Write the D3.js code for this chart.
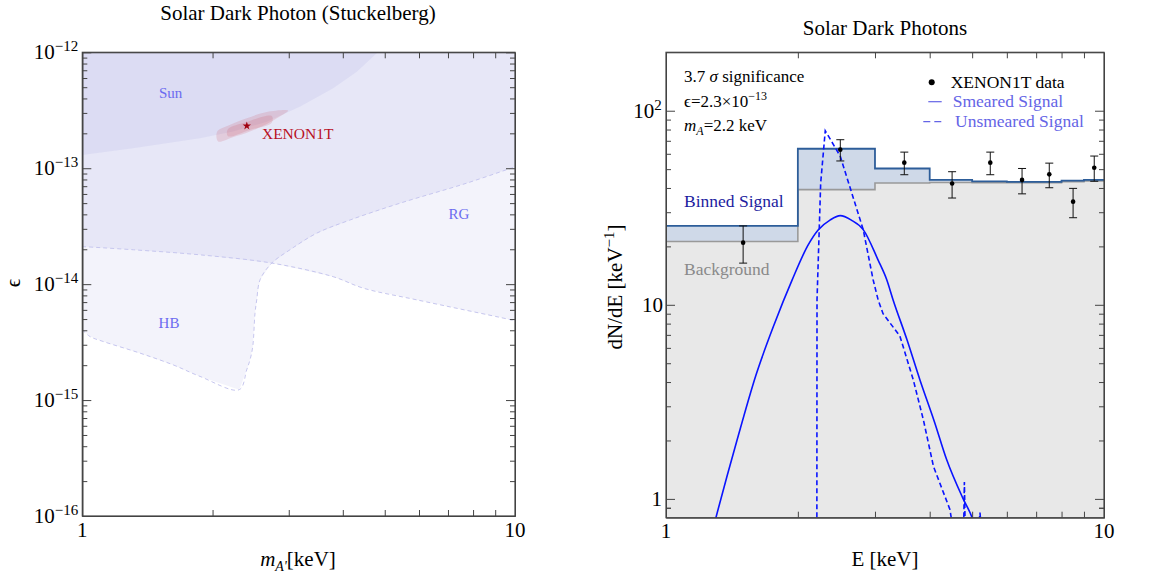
<!DOCTYPE html>
<html>
<head>
<meta charset="utf-8">
<script src="https://cdn.jsdelivr.net/npm/d3@7"></script>
<style>
  body { margin: 0; background: #fff; }
  text { font-family: "Liberation Serif", "Times New Roman", serif; }
</style>
</head>
<body>
<svg id="chart" width="1155" height="574"></svg>
<script>
// ---- left panel: exclusion regions in (m_A' [keV], epsilon) ----
const sunEdge = [[1, 1.30e-13], [1.31, 1.49e-13], [1.87, 1.81e-13], [2.23, 2.07e-13], [2.67, 2.52e-13],
  [3.19, 3.40e-13], [3.80, 4.89e-13], [4.31, 6.81e-13], [4.79, 9.8e-13], [4.86, 1.1e-12]];
const hbEdge = [[1, 4.04e-15], [1.042, 3.53e-15], [1.118, 3.20e-15], [1.36, 2.54e-15], [1.623, 2.01e-15],
  [1.871, 1.60e-15], [2.306, 1.23e-15], [2.398, 1.82e-15], [2.441, 2.22e-15], [2.477, 2.90e-15],
  [2.507, 5.62e-15], [2.53, 7.32e-15], [2.575, 1.09e-14], [2.741, 1.52e-14], [3.02, 1.98e-14],
  [3.48, 2.75e-14], [4.16, 3.58e-14], [5.42, 4.99e-14], [7.73, 7.43e-14], [10, 1.03e-13]];
const rgEdge = [[1, 2.11e-14], [1.312, 1.98e-14], [1.871, 1.79e-14], [2.741, 1.52e-14], [3.80, 1.16e-14],
  [4.46, 9.24e-15], [5.93, 7.32e-15], [9.57, 5.02e-15], [10, 4.83e-15]];
const xenonOuter = [[2.05, 2.07e-13], [2.19, 2.36e-13], [2.40, 2.70e-13], [2.67, 3.06e-13], [2.99, 3.14e-13],
  [2.86, 2.79e-13], [2.67, 2.41e-13], [2.44, 2.07e-13], [2.22, 1.84e-13], [2.06, 1.70e-13]];
const xenonInner = [[2.17, 2.17e-13], [2.40, 2.51e-13], [2.74, 2.82e-13], [2.74, 2.47e-13], [2.44, 2.14e-13],
  [2.17, 1.89e-13]];
const bestFit = [2.40, 2.32e-13];
const epsTicks = [-16, -15, -14, -13, -12];

// ---- right panel: spectrum ----
const binEdges = [1, 2, 3, 4, 5, 6, 7, 8, 9, 10];
const binSignal = [25.5, 63.7, 50.4, 44.0, 43.3, 43.0, 43.0, 43.6, 44.0];
const binBackground = [21.2, 39.2, 42.4, 42.7, 42.6, 42.6, 42.6, 43.1, 43.5];
const dataE = [1.5, 2.5, 3.5, 4.5, 5.5, 6.5, 7.5, 8.5, 9.5];
const dataRate = [20.9, 63.0, 54.0, 42.2, 54.0, 44.0, 47.0, 34.0, 50.8];
const dataLow = [16.4, 55.1, 46.8, 35.5, 46.8, 37.3, 40.1, 28.1, 43.3];
const dataHigh = [25.5, 70.9, 61.2, 48.5, 61.2, 50.4, 53.7, 39.8, 58.4];
const smearE = [1.26, 1.30, 1.453, 1.605, 1.764, 1.94, 2.11, 2.225, 2.368, 2.5, 2.65, 2.82, 3.05, 3.19, 3.30,
  3.55, 3.80, 4.10, 4.37, 4.77, 5.0, 5.1];
const smearRate = [0.61, 0.80, 2.01, 4.35, 7.87, 13.4, 20.3, 24.3, 27.3, 28.8, 27.3, 24.4, 17.0, 13.5, 10.6,
  6.6, 4.1, 2.5, 1.6, 1.0, 0.8, 0.7];
const unsmearE = [2.21, 2.212, 2.255, 2.31, 2.5, 2.82, 2.97, 3.05, 3.13, 3.42, 3.67, 3.87, 4.08, 4.45, 4.52,
  null, 4.77, 4.80, 4.83, null, 5.17, 5.21, 5.25];
const unsmearRate = [0.5, 10.6, 42.4, 78.9, 58.2, 24.4, 13.5, 10.6, 9.0, 6.9, 4.1, 2.55, 1.47, 0.88, 0.7,
  null, 0.5, 1.22, 0.55, null, 0.7, 0.85, 0.7];
const rateTicks = [1, 10, 100];

const svg = d3.select("#chart");
const defs = svg.append("defs");
const frameColor = "#444";

function clip(id, x0, x1, y0, y1) {
  defs.append("clipPath").attr("id", id).append("rect")
    .attr("x", x0).attr("y", y0).attr("width", x1 - x0).attr("height", y1 - y0);
}

function minors(lo, hi) {
  let out = [];
  for (let p = Math.floor(Math.log10(lo)); p <= Math.ceil(Math.log10(hi)); p++) {
    for (let k = 2; k <= 9; k++) {
      let v = k * Math.pow(10, p);
      if (v > lo && v < hi) out.push(v);
    }
  }
  return out;
}

function frame(g, x, y, yMajor) {
  let [x0, x1] = x.range(), [y1, y0] = y.range();
  let xm = minors(1, 10);
  let ym = minors(y.domain()[0], y.domain()[1]).concat(y.domain()[0] < 0.9 ? [0.9] : []);
  let put = (axis, tx, ty) => {
    let a = g.append("g").attr("transform", "translate(" + tx + "," + ty + ")").call(axis);
    a.selectAll("path, line").attr("stroke", frameColor);
    a.selectAll("text").remove();
  };
  put(d3.axisBottom(x).tickValues(xm).tickSize(-6).tickSizeOuter(0), 0, y1);
  put(d3.axisTop(x).tickValues(xm).tickSize(-6).tickSizeOuter(0), 0, y0);
  put(d3.axisLeft(y).tickValues(yMajor).tickSize(-9).tickSizeOuter(0), x0, 0);
  put(d3.axisLeft(y).tickValues(ym).tickSize(-5).tickSizeOuter(0), x0, 0);
  put(d3.axisRight(y).tickValues(yMajor).tickSize(-9).tickSizeOuter(0), x1, 0);
  put(d3.axisRight(y).tickValues(ym).tickSize(-5).tickSizeOuter(0), x1, 0);
  g.append("rect").attr("x", x0).attr("y", y0).attr("width", x1 - x0).attr("height", y1 - y0)
    .attr("fill", "none").attr("stroke", frameColor).attr("stroke-width", 1.2);
}

function powLabel(g, x, y, exp) {
  let t = g.append("text").attr("x", x).attr("y", y).attr("text-anchor", "end")
    .attr("font-size", 21).text("10");
  t.append("tspan").attr("dy", -8).attr("font-size", 15).text(exp);
}

// ================= LEFT PANEL =================
const xL = d3.scaleLog().domain([1, 10]).range([82.3, 515]);
const yL = d3.scaleLog().domain([1e-16, 1e-12]).range([516, 52.3]);
clip("clipL", 82.3, 515, 52.3, 516);

const gL = svg.append("g");
const plotL = gL.append("g").attr("clip-path", "url(#clipL)");
const lineL = d3.line().x(d => xL(d[0])).y(d => yL(d[1]));
const topL = [[10, 1e-12], [1, 1e-12]];

[rgEdge, hbEdge, sunEdge].forEach(edge => {
  plotL.append("path")
    .attr("d", lineL(edge.concat(topL)) + "Z")
    .attr("fill", "rgb(80,80,200)")
    .attr("fill-opacity", 0.07);
});

[hbEdge, rgEdge].forEach(edge => {
  plotL.append("path")
    .attr("d", lineL.curve(d3.curveCatmullRom)(edge))
    .attr("fill", "none")
    .attr("stroke", "#c6c6ee")
    .attr("stroke-width", 1)
    .attr("stroke-dasharray", "4,3");
});
lineL.curve(d3.curveLinear);

const closedL = d3.line().x(d => xL(d[0])).y(d => yL(d[1])).curve(d3.curveCatmullRomClosed);
[xenonOuter, xenonInner].forEach(c => {
  plotL.append("path").attr("d", closedL(c))
    .attr("fill", "rgb(200,40,60)").attr("fill-opacity", 0.14);
});
plotL.append("path")
  .attr("transform", "translate(" + xL(bestFit[0]) + "," + yL(bestFit[1]) + ")")
  .attr("d", d3.symbol(d3.symbolStar, 22)())
  .attr("fill", "#a0000f");

frame(gL, xL, yL, epsTicks.map(e => Math.pow(10, e)));

epsTicks.forEach(e => powLabel(gL, 78.3, yL(Math.pow(10, e)) + 7, "\u2212" + Math.abs(e)));
[1, 10].forEach(v => gL.append("text").attr("x", xL(v)).attr("y", 537)
  .attr("text-anchor", "middle").attr("font-size", 21).text(v));

const regionColor = "#6b6bf0";
gL.append("text").attr("x", 170.7).attr("y", 98).attr("text-anchor", "middle")
  .attr("font-size", 15).attr("fill", regionColor).text("Sun");
gL.append("text").attr("x", 459).attr("y", 219).attr("text-anchor", "middle")
  .attr("font-size", 15).attr("fill", regionColor).text("RG");
gL.append("text").attr("x", 169).attr("y", 328).attr("text-anchor", "middle")
  .attr("font-size", 15).attr("fill", regionColor).text("HB");
gL.append("text").attr("x", 297.7).attr("y", 139).attr("text-anchor", "middle")
  .attr("font-size", 15.5).attr("fill", "#b80f1f").text("XENON1T");

gL.append("text").attr("x", 298).attr("y", 20).attr("text-anchor", "middle")
  .attr("font-size", 21).text("Solar Dark Photon (Stuckelberg)");

const xlab = gL.append("text").attr("x", 298).attr("y", 566).attr("text-anchor", "middle").attr("font-size", 21);
xlab.append("tspan").attr("font-style", "italic").text("m");
xlab.append("tspan").attr("font-style", "italic").attr("font-size", 14).attr("dy", 5).text("A'");
xlab.append("tspan").attr("dy", -5).text("[keV]");

gL.append("text").attr("transform", "translate(20,283) rotate(-90)").attr("text-anchor", "middle")
  .attr("font-size", 21).text("\u03f5");

// ================= RIGHT PANEL =================
const xR = d3.scaleLog().domain([1, 10]).range([666, 1104]);
const yR = d3.scaleLog().domain([0.8, 200]).range([517.7, 52.3]);
clip("clipR", 666, 1104, 52.3, 517.7);

const gR = svg.append("g");
const plotR = gR.append("g").attr("clip-path", "url(#clipR)");

const steps = binEdges.map((e, i) => {
  let j = Math.min(i, binSignal.length - 1);
  return { e: e, sig: binSignal[j], bg: binBackground[j] };
});

plotR.append("path")
  .attr("d", d3.area().curve(d3.curveStepAfter).x(d => xR(d.e)).y0(yR(0.8)).y1(d => yR(d.bg))(steps))
  .attr("fill", "#e8e8e8");
plotR.append("path")
  .attr("d", d3.area().curve(d3.curveStepAfter).x(d => xR(d.e)).y0(d => yR(d.bg)).y1(d => yR(d.sig))(steps))
  .attr("fill", "#cfd9e8");
plotR.append("path")
  .attr("d", d3.line().curve(d3.curveStepAfter).x(d => xR(d.e)).y(d => yR(d.bg))(steps))
  .attr("fill", "none").attr("stroke", "#999").attr("stroke-width", 1.6);
plotR.append("path")
  .attr("d", d3.line().curve(d3.curveStepAfter).x(d => xR(d.e)).y(d => yR(d.sig))(steps))
  .attr("fill", "none").attr("stroke", "#2d5d99").attr("stroke-width", 1.8);

const smear = smearE.map((e, i) => [e, smearRate[i]]);
const unsmear = unsmearE.map((e, i) => [e, unsmearRate[i]]);

plotR.append("path")
  .attr("d", d3.line().curve(d3.curveMonotoneX).x(d => xR(d[0])).y(d => yR(d[1]))(smear))
  .attr("fill", "none").attr("stroke", "#0a14ff").attr("stroke-width", 1.6);
plotR.append("path")
  .attr("d", d3.line().defined(d => d[0] != null).x(d => xR(d[0])).y(d => yR(d[1]))(unsmear))
  .attr("fill", "none").attr("stroke", "#0a14ff").attr("stroke-width", 1.6)
  .attr("stroke-dasharray", "5,3");

const pts = dataE.map((e, i) => ({ e: e, v: dataRate[i], lo: dataLow[i], hi: dataHigh[i] }));
const err = plotR.selectAll(".err").data(pts).enter().append("g").attr("class", "err");
err.append("line").attr("x1", d => xR(d.e)).attr("x2", d => xR(d.e))
  .attr("y1", d => yR(d.lo)).attr("y2", d => yR(d.hi)).attr("stroke", "#111").attr("stroke-width", 1);
err.append("line").attr("x1", d => xR(d.e) - 4).attr("x2", d => xR(d.e) + 4)
  .attr("y1", d => yR(d.lo)).attr("y2", d => yR(d.lo)).attr("stroke", "#111").attr("stroke-width", 1);
err.append("line").attr("x1", d => xR(d.e) - 4).attr("x2", d => xR(d.e) + 4)
  .attr("y1", d => yR(d.hi)).attr("y2", d => yR(d.hi)).attr("stroke", "#111").attr("stroke-width", 1);
err.append("circle").attr("cx", d => xR(d.e)).attr("cy", d => yR(d.v)).attr("r", 2.3).attr("fill", "#000");

frame(gR, xR, yR, rateTicks);

powLabel(gR, 661.7, yR(100) + 7, "2");
gR.append("text").attr("x", 663).attr("y", yR(10) + 7).attr("text-anchor", "end").attr("font-size", 21).text("10");
gR.append("text").attr("x", 662).attr("y", yR(1) + 7).attr("text-anchor", "end").attr("font-size", 21).text("1");
[1, 10].forEach(v => gR.append("text").attr("x", xR(v)).attr("y", 538)
  .attr("text-anchor", "middle").attr("font-size", 21).text(v));

gR.append("text").attr("x", 885).attr("y", 35).attr("text-anchor", "middle")
  .attr("font-size", 21).text("Solar Dark Photons");
gR.append("text").attr("x", 885).attr("y", 566).attr("text-anchor", "middle")
  .attr("font-size", 21).text("E [keV]");
const ylab = gR.append("text").attr("transform", "translate(622,287) rotate(-90)")
  .attr("text-anchor", "middle").attr("font-size", 21).text("dN/dE [keV");
ylab.append("tspan").attr("dy", -8).attr("font-size", 15).text("\u22121");
ylab.append("tspan").attr("dy", 8).text("]");

// annotations
const a1 = gR.append("text").attr("x", 684).attr("y", 82).attr("font-size", 17).text("3.7 ");
a1.append("tspan").attr("font-style", "italic").text("\u03c3");
a1.append("tspan").text(" significance");
const a2 = gR.append("text").attr("x", 684).attr("y", 107).attr("font-size", 17).text("\u03f5=2.3\u00d710");
a2.append("tspan").attr("dy", -7).attr("font-size", 12).text("\u221213");
const a3 = gR.append("text").attr("x", 684).attr("y", 131).attr("font-size", 17);
a3.append("tspan").attr("font-style", "italic").text("m");
a3.append("tspan").attr("font-style", "italic").attr("font-size", 12).attr("dy", 4).text("A");
a3.append("tspan").attr("dy", -4).text("=2.2 keV");

gR.append("text").attr("x", 684).attr("y", 207).attr("font-size", 17.5).attr("fill", "#1c1ca0").text("Binned Signal");
gR.append("text").attr("x", 684).attr("y", 275).attr("font-size", 17.5).attr("fill", "#8a8a8a").text("Background");

// legend
const legendBlue = "#6464e6";
gR.append("circle").attr("cx", 931.7).attr("cy", 82.3).attr("r", 3).attr("fill", "#000");
gR.append("text").attr("x", 950.7).attr("y", 88).attr("font-size", 17.5).text("XENON1T data");
gR.append("line").attr("x1", 928.3).attr("x2", 941.7).attr("y1", 101.7).attr("y2", 101.7)
  .attr("stroke", legendBlue).attr("stroke-width", 1.2);
gR.append("text").attr("x", 952.7).attr("y", 107).attr("font-size", 17.5).attr("fill", legendBlue).text("Smeared Signal");
gR.append("line").attr("x1", 923.3).attr("x2", 944).attr("y1", 121.7).attr("y2", 121.7)
  .attr("stroke", legendBlue).attr("stroke-width", 1.2).attr("stroke-dasharray", "7,4");
gR.append("text").attr("x", 955).attr("y", 127).attr("font-size", 17.5).attr("fill", legendBlue).text("Unsmeared Signal");
</script>
</body>
</html>
